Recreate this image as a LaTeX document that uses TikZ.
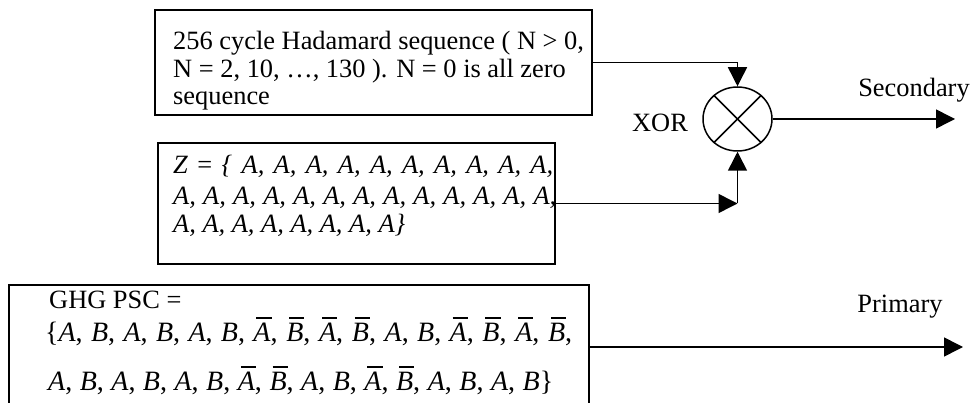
\documentclass[tikz,border=0pt]{standalone}
\usepackage{fontspec}
\setmainfont{Liberation Serif}
\usetikzlibrary{arrows.meta,shapes.geometric}
\newsavebox\ovlbox
\newcommand\ovl[1]{\sbox\ovlbox{\itshape #1}\leavevmode\rlap{\kern 3pt\raise\dimexpr\ht\ovlbox+4pt\relax\hbox{\vrule height 1.2pt depth 0pt width \dimexpr\wd\ovlbox-2pt\relax}}\usebox\ovlbox}
\newcommand\Aa{\textit{A}}
\newcommand\Bb{\textit{B}}
\newcommand\Ao{\ovl{A}}
\newcommand\Bo{\ovl{B}}
\begin{document}
\begin{tikzpicture}[x=1pt,y=-1pt,
  lbl/.style={inner sep=0, anchor=base west, font=\fontsize{26.4}{30}\selectfont},
  mlbl/.style={lbl, font=\fontsize{28}{32}\selectfont},
  tag/.style={inner sep=0, anchor=base, font=\fontsize{26.4}{30}\selectfont},
  boxframe/.style={draw, line width=1.5pt, inner sep=0},
  conn/.style={line width=1.5pt},
  arr/.style={conn, -{Triangle[length=19pt,width=19pt]}}
]
\useasboundingbox (0,0) rectangle (971,403);

% boxes
\node[boxframe, minimum width=437pt, minimum height=105pt] (hbox) at (373.5,62.5) {};
\node[boxframe, minimum width=397pt, minimum height=121pt] (zbox) at (356.5,203.5) {};
\node[boxframe, minimum width=580pt, minimum height=124pt] (pbox) at (299,347) {};
\node[boxframe, ellipse, minimum width=69pt, minimum height=64pt] (xor) at (737.5,119) {};
\draw[conn] (xor.45) -- (xor.225);
\draw[conn] (xor.135) -- (xor.315);

% box 1 text
\node[lbl] (h1) at (173,50) {256 cycle Hadamard sequence ( N > 0,};
\node[lbl] (h2) at (173,78) {N = 2, 10, …, 130 ). N = 0 is all zero};
\node[lbl] (h3) at (173,105) {sequence};

% box 2 text
\node[lbl] (z1) at (173,174) {\makebox[380pt][s]{\textit{Z} = \textit{\{ A, A, A, A, A, A, A, A, A, A,}}};
\node[lbl] (z2) at (173,205) {\makebox[383pt][s]{\itshape A, A, A, A, A, A, A, A, A, A, A, A, A,}};
\node[lbl] (z3) at (173,233) {\itshape A, A, A, A, A, A, A, A\}};

% box 3 text
\node[lbl] (p1) at (49,308) {GHG PSC =};
\node[mlbl] (p2) at (45,341) {\makebox[527pt][s]{\{\Aa, \Bb, \Aa, \Bb, \Aa, \Bb, \Ao, \Bo, \Ao, \Bo, \Aa, \Bb, \Ao, \Bo, \Ao, \Bo,}};
\node[mlbl] (p3) at (48,390) {\makebox[505pt][s]{\Aa, \Bb, \Aa, \Bb, \Aa, \Bb, \Ao, \Bo, \Aa, \Bb, \Ao, \Bo, \Aa, \Bb, \Aa, \Bb\}}};

% labels
\node[tag] (xorlbl) at (660,132) {XOR};
\node[tag] (sec) at (914,97) {Secondary};
\node[tag] (pri) at (900,312) {Primary};

% connectors
\coordinate (zc) at (xor.south |- zbox.east);
\coordinate (secend) at (955,119);
\coordinate (priend) at (963,347);
\draw[arr] (hbox.east) -| (xor.north);
\draw[arr] (zbox.east) -- (zc);
\draw[arr] (zc) -- (xor.south);
\draw[arr] (xor.east) -- (secend);
\draw[arr] (pbox.east) -- (priend);
\end{tikzpicture}
\end{document}
